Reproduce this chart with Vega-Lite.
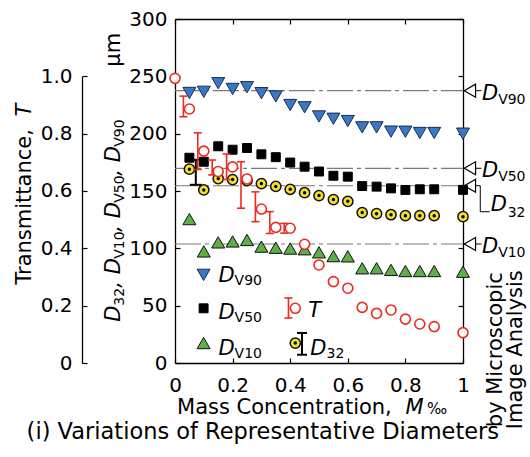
{
"$schema": "https://vega.github.io/schema/vega-lite/v6.json",
"width": 288, "height": 344,
"autosize": "none",
"padding": {"left": 175, "top": 19, "right": 67, "bottom": 94},
"background": "white",
"config": {
 "view": {"stroke": null},
 "axis": {"grid": false, "domainColor": "#000", "domainWidth": 1.3, "tickColor": "#000", "tickWidth": 1.2, "labelFont": "DejaVu Sans", "labelFontSize": 20, "labelColor": "#000", "labelFlush": false, "labelOverlap": false, "labelBound": false},
 "text": {"font": "DejaVu Sans", "color": "#000"}
},
"datasets": {
 "meas": [
  {"M":0,"T":0.993},
  {"M":0.05,"DV90":235.5,"DV50":179,"DV10":125.5,"D32":169,"T":0.886},
  {"M":0.1,"DV90":236.5,"DV50":175.5,"DV10":97.3,"D32":150.9,"T":0.739},
  {"M":0.15,"DV90":244,"DV50":189,"DV10":105.2,"D32":160.8,"T":0.668},
  {"M":0.2,"DV90":239,"DV50":186,"DV10":106,"D32":160,"T":0.684},
  {"M":0.25,"DV90":240.5,"DV50":187.5,"DV10":107.3,"D32":159,"T":0.642},
  {"M":0.3,"DV90":235.3,"DV50":182,"DV10":101.5,"D32":156.5,"T":0.537},
  {"M":0.35,"DV90":232.5,"DV50":179.5,"DV10":100.5,"D32":154,"T":0.473},
  {"M":0.4,"DV90":225,"DV50":174.8,"DV10":99.8,"D32":151.5,"T":0.47},
  {"M":0.45,"DV90":223,"DV50":171.2,"DV10":99.2,"D32":148.5,"T":0.414},
  {"M":0.5,"DV90":215,"DV50":167,"DV10":96.5,"D32":146,"T":0.342},
  {"M":0.55,"DV90":213,"DV50":163.3,"DV10":93.2,"D32":142.5,"T":0.284},
  {"M":0.6,"DV90":211,"DV50":162.5,"DV10":93,"D32":141,"T":0.261},
  {"M":0.65,"DV90":205.5,"DV50":154.3,"DV10":82.6,"D32":131.2,"T":0.194},
  {"M":0.7,"DV90":205.5,"DV50":153.8,"DV10":82.6,"D32":130.2,"T":0.173},
  {"M":0.75,"DV90":201.8,"DV50":152.3,"DV10":81.2,"D32":129.3,"T":0.185},
  {"M":0.8,"DV90":201.7,"DV50":150.9,"DV10":80.2,"D32":128.5,"T":0.153},
  {"M":0.85,"DV90":200.6,"DV50":151.5,"DV10":80.2,"D32":128.5,"T":0.136},
  {"M":0.9,"DV90":200.6,"DV50":151.5,"DV10":80.2,"D32":128.5,"T":0.127},
  {"M":1,"DV90":200,"DV50":151,"DV10":79.6,"D32":127.6,"T":0.106}
 ],
 "terr": [
  {"M":0.05,"lo":0.859,"hi":0.931},
  {"M":0.1,"lo":0.675,"hi":0.803},
  {"M":0.15,"lo":0.656,"hi":0.708},
  {"M":0.2,"lo":0.64,"hi":0.729},
  {"M":0.25,"lo":0.54,"hi":0.702},
  {"M":0.3,"lo":0.493,"hi":0.597},
  {"M":0.35,"lo":0.452,"hi":0.528},
  {"M":0.4,"lo":0.453,"hi":0.487}
 ],
 "derr": [{"M":0.1,"lo":155.4,"hi":177.2}],
 "ref": [
  {"name":"DV90","sub":"V90","value":237.5},
  {"name":"DV50","sub":"V50","value":169.8},
  {"name":"D32","sub":"32","value":154.6},
  {"name":"DV10","sub":"V10","value":103.8}
 ],
 "one": [{}]
},
"resolve": {"scale": {"y": "independent"}, "axis": {"x": "independent", "y": "independent"}},
"layer": [
 {
  "layer": [
   {"data": {"name": "ref"},
    "mark": {"type": "rule", "color": "#7a7a7a", "strokeWidth": 1.2, "strokeDash": [26, 4, 4, 4]},
    "encoding": {
     "x": {"datum": 0, "type": "quantitative", "scale": {"domain": [0, 1], "nice": false},
           "axis": {"orient": "bottom", "labels": false, "ticks": false, "domain": false, "title": null}},
     "x2": {"datum": 1},
     "y": {"field": "value", "type": "quantitative", "scale": {"domain": [0, 300], "nice": false},
           "axis": {"orient": "right", "values": [0,25,50,75,100,125,150,175,200,225,250,275,300], "tickSize": -5, "labels": false, "title": null}}
    }},
   {"data": {"name": "ref"},
    "mark": {"type": "point", "shape": "triangle-left", "filled": true, "fill": "white", "stroke": "#000", "strokeWidth": 1.2, "size": 170, "opacity": 1},
    "encoding": {"x": {"datum": 1.024, "type": "quantitative"}, "y": {"field": "value", "type": "quantitative"}}},
   {"data": {"name": "ref"}, "transform": [{"filter": "datum.name != 'D32'"}],
    "mark": {"type": "rule", "color": "#000", "strokeWidth": 1},
    "encoding": {"x": {"datum": 1.045, "type": "quantitative"}, "x2": {"datum": 1.064}, "y": {"field": "value", "type": "quantitative"}}},
   {"data": {"name": "ref"}, "transform": [{"filter": "datum.name != 'D32'"}],
    "mark": {"type": "text", "text": "D", "fontStyle": "italic", "fontSize": 21, "align": "left", "baseline": "alphabetic", "dy": 9},
    "encoding": {"x": {"datum": 1.066, "type": "quantitative"}, "y": {"field": "value", "type": "quantitative"}}},
   {"data": {"name": "ref"}, "transform": [{"filter": "datum.name != 'D32'"}],
    "mark": {"type": "text", "fontSize": 14, "align": "left", "baseline": "alphabetic", "dy": 13},
    "encoding": {"x": {"datum": 1.122, "type": "quantitative"}, "y": {"field": "value", "type": "quantitative"}, "text": {"field": "sub"}}},
   {"data": {"name": "one"}, "mark": {"type": "rule", "color": "#000", "strokeWidth": 1},
    "encoding": {"x": {"datum": 1.045, "type": "quantitative"}, "x2": {"datum": 1.06}, "y": {"datum": 154.6, "type": "quantitative"}}},
   {"data": {"name": "one"}, "mark": {"type": "rule", "color": "#000", "strokeWidth": 1},
    "encoding": {"x": {"datum": 1.06, "type": "quantitative"}, "y": {"datum": 154.6, "type": "quantitative"}, "y2": {"datum": 131.9}}},
   {"data": {"name": "one"}, "mark": {"type": "rule", "color": "#000", "strokeWidth": 1},
    "encoding": {"x": {"datum": 1.06, "type": "quantitative"}, "x2": {"datum": 1.093}, "y": {"datum": 131.9, "type": "quantitative"}}},
   {"data": {"name": "one"}, "mark": {"type": "text", "text": "D", "fontStyle": "italic", "fontSize": 21, "align": "left", "baseline": "alphabetic"},
    "encoding": {"x": {"datum": 1.096, "type": "quantitative"}, "y": {"datum": 132.2, "type": "quantitative"}}},
   {"data": {"name": "one"}, "mark": {"type": "text", "text": "32", "fontSize": 14, "align": "left", "baseline": "alphabetic"},
    "encoding": {"x": {"datum": 1.155, "type": "quantitative"}, "y": {"datum": 127.6, "type": "quantitative"}}},
   {"data": {"name": "one"}, "mark": {"type": "text", "text": "by Microscopic", "fontSize": 21, "angle": 270, "align": "center", "baseline": "alphabetic"},
    "encoding": {"x": {"datum": 1.137, "type": "quantitative"}, "y": {"datum": 11.6, "type": "quantitative"}}},
   {"data": {"name": "one"}, "mark": {"type": "text", "text": "Image Analysis", "fontSize": 21, "angle": 270, "align": "center", "baseline": "alphabetic"},
    "encoding": {"x": {"datum": 1.205, "type": "quantitative"}, "y": {"datum": 11.6, "type": "quantitative"}}}
  ]
 },
 {
  "layer": [
   {"data": {"name": "meas"},
    "mark": {"type": "point", "shape": "triangle-down", "filled": true, "fill": "#3a78c3", "stroke": "#1b2d4f", "strokeWidth": 1, "size": 170, "opacity": 1},
    "encoding": {
     "x": {"field": "M", "type": "quantitative", "scale": {"domain": [0, 1], "nice": false},
           "axis": {"orient": "bottom", "values": [0,0.1,0.2,0.3,0.4,0.5,0.6,0.7,0.8,0.9,1], "tickSize": -5, "labelPadding": 17, "labelExpr": "round(datum.value*10)%2==0 ? format(datum.value,'~g') : ''", "title": null}},
     "y": {"field": "DV90", "type": "quantitative", "scale": {"domain": [0, 300], "nice": false},
           "axis": {"orient": "left", "values": [0,25,50,75,100,125,150,175,200,225,250,275,300], "tickSize": -5, "labelPadding": 13, "labelExpr": "datum.value%50==0 ? datum.label : ''", "title": null}}
    }},
   {"data": {"name": "meas"},
    "mark": {"type": "point", "shape": "square", "filled": true, "fill": "#000", "stroke": "#000", "strokeWidth": 1, "size": 80, "opacity": 1},
    "encoding": {"x": {"field": "M", "type": "quantitative"}, "y": {"field": "DV50", "type": "quantitative"}}},
   {"data": {"name": "meas"},
    "mark": {"type": "point", "shape": "triangle-up", "filled": true, "fill": "#5fae48", "stroke": "#111", "strokeWidth": 1, "size": 170, "opacity": 1},
    "encoding": {"x": {"field": "M", "type": "quantitative"}, "y": {"field": "DV10", "type": "quantitative"}}},
   {"data": {"name": "derr"}, "mark": {"type": "rule", "color": "#000", "strokeWidth": 2, "xOffset": -8},
    "encoding": {"x": {"field": "M", "type": "quantitative"}, "y": {"field": "lo", "type": "quantitative"}, "y2": {"field": "hi"}}},
   {"data": {"name": "derr"}, "mark": {"type": "rule", "color": "#000", "strokeWidth": 2, "xOffset": -14, "x2Offset": -2},
    "encoding": {"x": {"field": "M", "type": "quantitative"}, "x2": {"field": "M"}, "y": {"field": "lo", "type": "quantitative"}}},
   {"data": {"name": "derr"}, "mark": {"type": "rule", "color": "#000", "strokeWidth": 2, "xOffset": -14, "x2Offset": -2},
    "encoding": {"x": {"field": "M", "type": "quantitative"}, "x2": {"field": "M"}, "y": {"field": "hi", "type": "quantitative"}}},
   {"data": {"name": "meas"},
    "mark": {"type": "point", "shape": "circle", "filled": true, "fill": "#f2e22c", "stroke": "#111", "strokeWidth": 1.5, "size": 105, "opacity": 1},
    "encoding": {"x": {"field": "M", "type": "quantitative"}, "y": {"field": "D32", "type": "quantitative"}}},
   {"data": {"name": "meas"},
    "mark": {"type": "point", "shape": "circle", "filled": true, "fill": "#000", "size": 12, "opacity": 1},
    "encoding": {"x": {"field": "M", "type": "quantitative"}, "y": {"field": "D32", "type": "quantitative"}}},

   {"data": {"name": "one"}, "mark": {"type": "point", "shape": "triangle-down", "filled": true, "fill": "#3a78c3", "stroke": "#1b2d4f", "strokeWidth": 1, "size": 170, "opacity": 1},
    "encoding": {"x": {"datum": 0.0993, "type": "quantitative"}, "y": {"datum": 76.9, "type": "quantitative"}}},
   {"data": {"name": "one"}, "mark": {"type": "point", "shape": "square", "filled": true, "fill": "#000", "stroke": "#000", "strokeWidth": 1, "size": 80, "opacity": 1},
    "encoding": {"x": {"datum": 0.0993, "type": "quantitative"}, "y": {"datum": 47.7, "type": "quantitative"}}},
   {"data": {"name": "one"}, "mark": {"type": "point", "shape": "triangle-up", "filled": true, "fill": "#5fae48", "stroke": "#111", "strokeWidth": 1, "size": 170, "opacity": 1},
    "encoding": {"x": {"datum": 0.0993, "type": "quantitative"}, "y": {"datum": 17.4, "type": "quantitative"}}},
   {"data": {"name": "one"}, "mark": {"type": "rule", "color": "#000", "strokeWidth": 2},
    "encoding": {"x": {"datum": 0.441, "type": "quantitative"}, "y": {"datum": 7.2, "type": "quantitative"}, "y2": {"datum": 26.2}}},
   {"data": {"name": "one"}, "mark": {"type": "rule", "color": "#000", "strokeWidth": 2, "xOffset": -5, "x2Offset": 5},
    "encoding": {"x": {"datum": 0.441, "type": "quantitative"}, "x2": {"datum": 0.441}, "y": {"datum": 7.2, "type": "quantitative"}}},
   {"data": {"name": "one"}, "mark": {"type": "rule", "color": "#000", "strokeWidth": 2, "xOffset": -5, "x2Offset": 5},
    "encoding": {"x": {"datum": 0.441, "type": "quantitative"}, "x2": {"datum": 0.441}, "y": {"datum": 26.2, "type": "quantitative"}}},
   {"data": {"name": "one"}, "mark": {"type": "point", "shape": "circle", "filled": true, "fill": "#f2e22c", "stroke": "#111", "strokeWidth": 1.5, "size": 105, "opacity": 1},
    "encoding": {"x": {"datum": 0.4177, "type": "quantitative"}, "y": {"datum": 17.4, "type": "quantitative"}}},
   {"data": {"name": "one"}, "mark": {"type": "point", "shape": "circle", "filled": true, "fill": "#000", "size": 12, "opacity": 1},
    "encoding": {"x": {"datum": 0.4177, "type": "quantitative"}, "y": {"datum": 17.4, "type": "quantitative"}}},
   {"data": {"name": "one"}, "mark": {"type": "rule", "color": "#ee2a1f", "strokeWidth": 1.6},
    "encoding": {"x": {"datum": 0.394, "type": "quantitative"}, "y": {"datum": 39.2, "type": "quantitative"}, "y2": {"datum": 56.7}}},
   {"data": {"name": "one"}, "mark": {"type": "rule", "color": "#ee2a1f", "strokeWidth": 1.6, "xOffset": -4, "x2Offset": 4},
    "encoding": {"x": {"datum": 0.394, "type": "quantitative"}, "x2": {"datum": 0.394}, "y": {"datum": 39.2, "type": "quantitative"}}},
   {"data": {"name": "one"}, "mark": {"type": "rule", "color": "#ee2a1f", "strokeWidth": 1.6, "xOffset": -4, "x2Offset": 4},
    "encoding": {"x": {"datum": 0.394, "type": "quantitative"}, "x2": {"datum": 0.394}, "y": {"datum": 56.7, "type": "quantitative"}}},
   {"data": {"name": "one"}, "mark": {"type": "point", "shape": "circle", "filled": true, "fill": "white", "stroke": "#ee2a1f", "strokeWidth": 1.6, "size": 100, "opacity": 1},
    "encoding": {"x": {"datum": 0.4177, "type": "quantitative"}, "y": {"datum": 47.7, "type": "quantitative"}}},

   {"data": {"name": "one"}, "mark": {"type": "text", "text": "D", "fontStyle": "italic", "fontSize": 21, "align": "left", "baseline": "alphabetic"},
    "encoding": {"x": {"datum": 0.151, "type": "quantitative"}, "y": {"datum": 70.3, "type": "quantitative"}}},
   {"data": {"name": "one"}, "mark": {"type": "text", "text": "V90", "fontSize": 14, "align": "left", "baseline": "alphabetic", "dy": 3},
    "encoding": {"x": {"datum": 0.207, "type": "quantitative"}, "y": {"datum": 70.3, "type": "quantitative"}}},
   {"data": {"name": "one"}, "mark": {"type": "text", "text": "D", "fontStyle": "italic", "fontSize": 21, "align": "left", "baseline": "alphabetic"},
    "encoding": {"x": {"datum": 0.151, "type": "quantitative"}, "y": {"datum": 38.4, "type": "quantitative"}}},
   {"data": {"name": "one"}, "mark": {"type": "text", "text": "V50", "fontSize": 14, "align": "left", "baseline": "alphabetic", "dy": 3},
    "encoding": {"x": {"datum": 0.207, "type": "quantitative"}, "y": {"datum": 38.4, "type": "quantitative"}}},
   {"data": {"name": "one"}, "mark": {"type": "text", "text": "D", "fontStyle": "italic", "fontSize": 21, "align": "left", "baseline": "alphabetic"},
    "encoding": {"x": {"datum": 0.151, "type": "quantitative"}, "y": {"datum": 7.2, "type": "quantitative"}}},
   {"data": {"name": "one"}, "mark": {"type": "text", "text": "V10", "fontSize": 14, "align": "left", "baseline": "alphabetic", "dy": 3},
    "encoding": {"x": {"datum": 0.207, "type": "quantitative"}, "y": {"datum": 7.2, "type": "quantitative"}}},
   {"data": {"name": "one"}, "mark": {"type": "text", "text": "T", "fontStyle": "italic", "fontSize": 21, "align": "left", "baseline": "alphabetic"},
    "encoding": {"x": {"datum": 0.463, "type": "quantitative"}, "y": {"datum": 39.8, "type": "quantitative"}}},
   {"data": {"name": "one"}, "mark": {"type": "text", "text": "D", "fontStyle": "italic", "fontSize": 21, "align": "left", "baseline": "alphabetic"},
    "encoding": {"x": {"datum": 0.47, "type": "quantitative"}, "y": {"datum": 7.2, "type": "quantitative"}}},
   {"data": {"name": "one"}, "mark": {"type": "text", "text": "32", "fontSize": 14, "align": "left", "baseline": "alphabetic", "dy": 3},
    "encoding": {"x": {"datum": 0.526, "type": "quantitative"}, "y": {"datum": 7.2, "type": "quantitative"}}},

   {"data": {"name": "one"}, "mark": {"type": "text", "text": "D", "fontStyle": "italic", "fontSize": 21, "angle": 270, "align": "left", "baseline": "alphabetic", "dx": 0},
    "encoding": {"x": {"datum": -0.19, "type": "quantitative"}, "y": {"datum": 36, "type": "quantitative"}}},
   {"data": {"name": "one"}, "mark": {"type": "text", "text": "32", "fontSize": 14, "angle": 270, "align": "left", "baseline": "alphabetic", "dx": 16, "dy": 4},
    "encoding": {"x": {"datum": -0.19, "type": "quantitative"}, "y": {"datum": 36, "type": "quantitative"}}},
   {"data": {"name": "one"}, "mark": {"type": "text", "text": ", D", "fontStyle": "italic", "fontSize": 21, "angle": 270, "align": "left", "baseline": "alphabetic", "dx": 34},
    "encoding": {"x": {"datum": -0.19, "type": "quantitative"}, "y": {"datum": 36, "type": "quantitative"}}},
   {"data": {"name": "one"}, "mark": {"type": "text", "text": "V10", "fontSize": 14, "angle": 270, "align": "left", "baseline": "alphabetic", "dx": 63, "dy": 4},
    "encoding": {"x": {"datum": -0.19, "type": "quantitative"}, "y": {"datum": 36, "type": "quantitative"}}},
   {"data": {"name": "one"}, "mark": {"type": "text", "text": ", D", "fontStyle": "italic", "fontSize": 21, "angle": 270, "align": "left", "baseline": "alphabetic", "dx": 90},
    "encoding": {"x": {"datum": -0.19, "type": "quantitative"}, "y": {"datum": 36, "type": "quantitative"}}},
   {"data": {"name": "one"}, "mark": {"type": "text", "text": "V50", "fontSize": 14, "angle": 270, "align": "left", "baseline": "alphabetic", "dx": 119, "dy": 4},
    "encoding": {"x": {"datum": -0.19, "type": "quantitative"}, "y": {"datum": 36, "type": "quantitative"}}},
   {"data": {"name": "one"}, "mark": {"type": "text", "text": ", D", "fontStyle": "italic", "fontSize": 21, "angle": 270, "align": "left", "baseline": "alphabetic", "dx": 146},
    "encoding": {"x": {"datum": -0.19, "type": "quantitative"}, "y": {"datum": 36, "type": "quantitative"}}},
   {"data": {"name": "one"}, "mark": {"type": "text", "text": "V90", "fontSize": 14, "angle": 270, "align": "left", "baseline": "alphabetic", "dx": 175, "dy": 4},
    "encoding": {"x": {"datum": -0.19, "type": "quantitative"}, "y": {"datum": 36, "type": "quantitative"}}},
   {"data": {"name": "one"}, "mark": {"type": "text", "text": "μm", "fontSize": 21, "angle": 270, "align": "left", "baseline": "alphabetic", "dx": 255},
    "encoding": {"x": {"datum": -0.19, "type": "quantitative"}, "y": {"datum": 36, "type": "quantitative"}}},

   {"data": {"name": "one"}, "mark": {"type": "text", "text": "Transmittance,", "fontSize": 21, "angle": 270, "align": "left", "baseline": "alphabetic"},
    "encoding": {"x": {"datum": -0.5007, "type": "quantitative"}, "y": {"datum": 68.3, "type": "quantitative"}}},
   {"data": {"name": "one"}, "mark": {"type": "text", "text": "T", "fontStyle": "italic", "fontSize": 21, "angle": 270, "align": "left", "baseline": "alphabetic"},
    "encoding": {"x": {"datum": -0.5007, "type": "quantitative"}, "y": {"datum": 215, "type": "quantitative"}}},

   {"data": {"name": "one"}, "mark": {"type": "text", "text": "Mass Concentration,", "fontSize": 21, "align": "left", "baseline": "alphabetic"},
    "encoding": {"x": {"datum": 0.007, "type": "quantitative"}, "y": {"datum": -44.6, "type": "quantitative"}}},
   {"data": {"name": "one"}, "mark": {"type": "text", "text": "M", "fontStyle": "italic", "fontSize": 21, "align": "left", "baseline": "alphabetic"},
    "encoding": {"x": {"datum": 0.8, "type": "quantitative"}, "y": {"datum": -44.6, "type": "quantitative"}}},
   {"data": {"name": "one"}, "mark": {"type": "text", "text": "‰", "fontSize": 15, "align": "left", "baseline": "alphabetic"},
    "encoding": {"x": {"datum": 0.875, "type": "quantitative"}, "y": {"datum": -44.6, "type": "quantitative"}}},
   {"data": {"name": "one"}, "mark": {"type": "text", "text": "(i) Variations of Representative Diameters", "fontSize": 22.5, "align": "center", "baseline": "alphabetic"},
    "encoding": {"x": {"datum": 0.305, "type": "quantitative"}, "y": {"datum": -66.2, "type": "quantitative"}}}
  ]
 },
 {
  "layer": [
   {"data": {"name": "terr"}, "mark": {"type": "rule", "color": "#ee2a1f", "strokeWidth": 1.6, "xOffset": -6},
    "encoding": {"x": {"field": "M", "type": "quantitative"}, "y": {"field": "lo", "type": "quantitative"}, "y2": {"field": "hi"}}},
   {"data": {"name": "terr"}, "mark": {"type": "rule", "color": "#ee2a1f", "strokeWidth": 1.6, "xOffset": -10, "x2Offset": -2},
    "encoding": {"x": {"field": "M", "type": "quantitative"}, "x2": {"field": "M"}, "y": {"field": "lo", "type": "quantitative"}}},
   {"data": {"name": "terr"}, "mark": {"type": "rule", "color": "#ee2a1f", "strokeWidth": 1.6, "xOffset": -10, "x2Offset": -2},
    "encoding": {"x": {"field": "M", "type": "quantitative"}, "x2": {"field": "M"}, "y": {"field": "hi", "type": "quantitative"}}},
   {"data": {"name": "meas"},
    "mark": {"type": "point", "shape": "circle", "filled": true, "fill": "white", "stroke": "#ee2a1f", "strokeWidth": 1.6, "size": 100, "opacity": 1},
    "encoding": {
     "x": {"field": "M", "type": "quantitative",
           "axis": {"orient": "top", "values": [0,0.1,0.2,0.3,0.4,0.5,0.6,0.7,0.8,0.9,1], "tickSize": -5, "labels": false, "title": null}},
     "y": {"field": "T", "type": "quantitative", "scale": {"domain": [0, 1], "range": [344, 57.33], "nice": false},
           "axis": {"orient": "left", "offset": 93, "values": [0,0.1,0.2,0.3,0.4,0.5,0.6,0.7,0.8,0.9,1], "tickSize": -5, "labelPadding": 15, "labelExpr": "datum.value < 0.01 ? '0' : (round(datum.value*10)%2==0 ? format(datum.value,'.1f') : '')", "title": null}}
    }}
  ]
 }
]
}
